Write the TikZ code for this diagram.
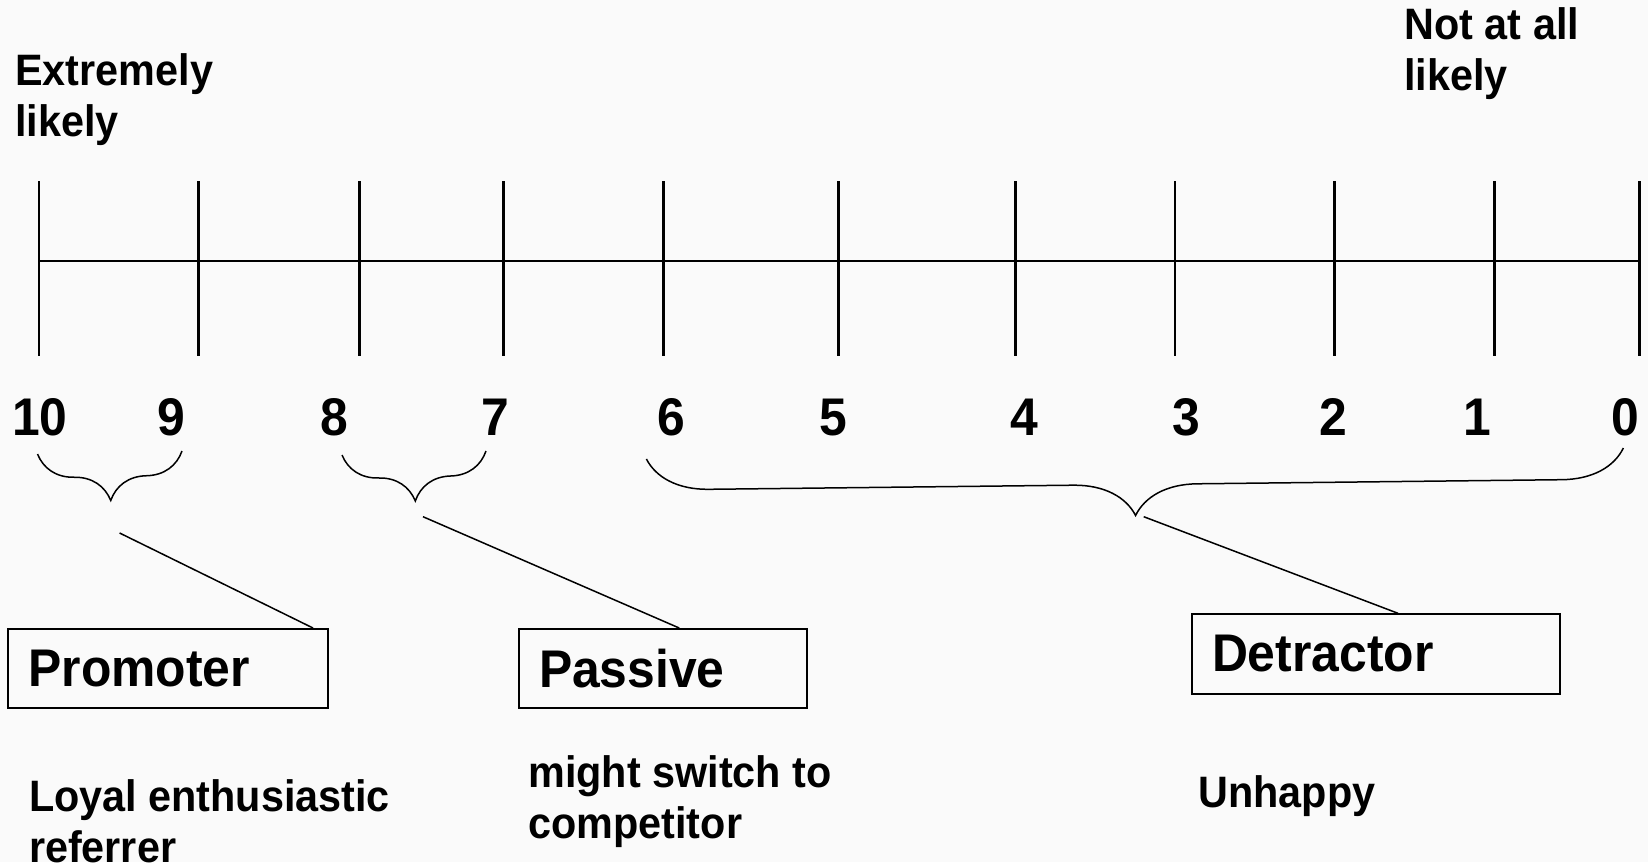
\documentclass[tikz,border=0pt]{standalone}
\usepackage{fontspec}
\setmainfont{Liberation Sans}[FakeStretch=0.94]
\usetikzlibrary{positioning,decorations.pathreplacing}
\definecolor{paper}{HTML}{FAFAFA}
\newcommand\bigfont{\fontsize{26.5}{30}\selectfont\bfseries}
\newcommand\smallfont{\fontsize{22}{25.5}\selectfont\bfseries}

\begin{document}
\begin{tikzpicture}[x=0.5pt,y=-0.5pt,
      tick/.style={line width=1.35pt},
      num/.style={font=\bigfont,anchor=base,inner sep=0pt},
      note/.style={font=\smallfont,align=left,anchor=base west,inner sep=0pt},
      tag/.style={draw,line width=1pt,font=\bigfont,align=left,anchor=north west,
                  inner xsep=10pt,inner ysep=0pt,minimum height=39.6pt},
      grp/.style={decorate,decoration={brace,mirror,amplitude=#1},line width=0.75pt},
      lead/.style={line width=0.75pt}]

    \fill[paper] (0,0) rectangle (1648,862);
    \useasboundingbox (0,0) rectangle (1648,862);

    % the scale
    \draw[tick] (38.9,261) -- (1639.6,261);
    \foreach \x in {38.9,198.6,359.4,503.4,663.2,838.7,1015.3,1175,1334.8,1494.5,1639.6}
      \draw[tick] (\x,181) -- (\x,356);

    \foreach \n/\x in {10/40,9/171.5,8/334,7/495.7,6/671.6,5/833,4/1024,3/1186.5,2/1333,1/1477,0/1625}
      \node[num] (n\n) at (\x,435) {\n};

    % base = last line
    \node[note] (high) at (15,136.5) {Extremely\\likely};
    \node[note] (low) at (1404,90.7) {Not at all\\likely};

    % groups
    \draw[grp=24pt] (37.5,454) -- (182,451);
    \draw[grp=24pt] (342,455) -- (486,451);
    \draw[grp=31pt] (646.4,459) -- (1623.4,448);

    \node[tag,text width=139.8pt] (promoter) at (7.4,628) {Promoter};
    \node[tag,text width=124.2pt] (passive) at (518,628) {Passive};
    \node[tag,text width=164pt] (detractor) at (1191,613.3) {Detractor};

    \coordinate (fromP) at (119.6,533);
    \coordinate (fromQ) at (423,516.7);
    \coordinate (fromD) at (1143.7,516.7);
    \draw[lead] (fromP) -- ([xshift=-8pt]promoter.north east);
    \draw[lead] (fromQ) -- ([xshift=8pt]passive.north);
    \draw[lead] (fromD) -- ([xshift=11pt]detractor.north);

    \node[note] (loyal) at (28.6,862) {Loyal enthusiastic\\referrer};
    \node[note] (switch) at (528,838.3) {might switch to\\competitor};
    \node[note] (unhappy) at (1198,807) {Unhappy};
  \end{tikzpicture}
\end{document}
